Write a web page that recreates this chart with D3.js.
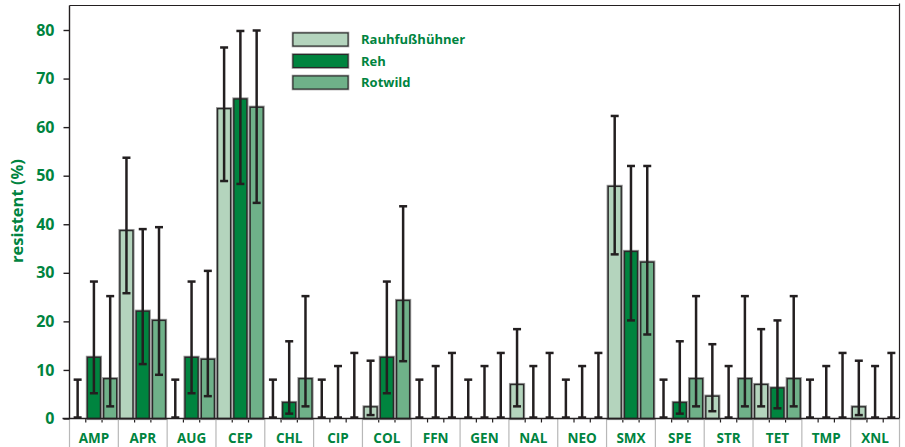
<!DOCTYPE html>
<html>
<head>
<meta charset="utf-8">
<script src="https://cdn.jsdelivr.net/npm/d3@7"></script>
<style>
body { margin: 0; background: #fff; }
svg text { font-family: "Open Sans", "Noto Sans", sans-serif; font-weight: bold; fill: #00843f; }
</style>
</head>
<body>
<svg id="chart" width="905" height="447"></svg>
<script>
'use strict';

// Antibiotika
var categories = ["AMP", "APR", "AUG", "CEP", "CHL", "CIP", "COL", "FFN", "GEN",
	"NAL", "NEO", "SMX", "SPE", "STR", "TET", "TMP", "XNL"];
var seriesNames = ["Rauhfußhühner", "Reh", "Rotwild"];
var seriesColors = ["#b4d4bd", "#00843f", "#6fb189"];

// resistent (%) mit unterem / oberem Konfidenzintervall
var rauhValues = [0, 38.7, 0, 63.8, 0, 0, 2.4, 0, 0, 7.0, 0, 47.8, 0, 4.6, 7.0, 0, 2.4];
var rauhLower  = [0, 25.8, 0, 48.9, 0, 0, 0.7, 0, 0, 2.5, 0, 33.8, 0, 1.5, 2.5, 0, 0.7];
var rauhUpper  = [8.0, 53.7, 8.0, 76.4, 8.0, 8.0, 11.9, 8.0, 8.0, 18.4, 8.0, 62.3, 8.0, 15.3, 18.4, 8.0, 11.9];

var rehValues = [12.6, 22.1, 12.6, 65.8, 3.3, 0, 12.6, 0, 0, 0, 0, 34.4, 3.3, 0, 6.3, 0, 0];
var rehLower  = [5.2, 11.2, 5.2, 48.3, 1.0, 0, 5.2, 0, 0, 0, 0, 20.2, 1.0, 0, 2.1, 0, 0];
var rehUpper  = [28.2, 39.0, 28.2, 79.8, 15.9, 10.8, 28.2, 10.8, 10.8, 10.8, 10.8, 52.0, 15.9, 10.8, 20.2, 10.8, 10.8];

var rotValues = [8.2, 20.2, 12.2, 64.1, 8.2, 0, 24.3, 0, 0, 0, 0, 32.2, 8.2, 8.2, 8.2, 0, 0];
var rotLower  = [2.5, 9.0, 4.6, 44.4, 2.5, 0, 11.8, 0, 0, 0, 0, 17.3, 2.5, 2.5, 2.5, 0, 0];
var rotUpper  = [25.2, 39.4, 30.4, 79.9, 25.2, 13.5, 43.7, 13.5, 13.5, 13.5, 13.5, 52.0, 25.2, 25.2, 25.2, 13.5, 13.5];

var yTicks = [0, 10, 20, 30, 40, 50, 60, 70, 80];
var yLabel = "resistent (%)";

function buildRows() {
	let values = [rauhValues, rehValues, rotValues];
	let lower = [rauhLower, rehLower, rotLower];
	let upper = [rauhUpper, rehUpper, rotUpper];
	let rows = [];
	categories.forEach(function (cat, i) {
		seriesNames.forEach(function (s, j) {
			rows.push({cat: cat, series: s, idx: j, value: values[j][i], lo: lower[j][i], hi: upper[j][i]});
		});
	});
	return rows;
}

function drawChart() {
	let svg = d3.select("#chart");
	let left = 69.5, right = 899.5, top = 5.5, axisY = 418.5, bottom = 447;
	let rows = buildRows();

	let x = d3.scaleBand().domain(categories).range([left, right]);
	let xs = d3.scaleBand().domain(seriesNames).range([0, x.bandwidth()])
		.paddingInner(0.2).paddingOuter(0.1);
	let y = d3.scaleLinear().domain([0, 80]).range([axisY, 30]);

	// Rahmen oben / rechts
	svg.append("line").attr("x1", left).attr("x2", right).attr("y1", top).attr("y2", top)
		.attr("stroke", "#231f20").attr("stroke-width", 1.2);
	svg.append("line").attr("x1", right).attr("x2", right).attr("y1", top - 2).attr("y2", axisY)
		.attr("stroke", "#231f20").attr("stroke-width", 1.2);

	// Trennlinien unter der Achse
	let seps = categories.map(function (c) { return x(c); }).concat([right]);
	svg.append("g").selectAll("line").data(seps).enter().append("line")
		.attr("x1", function (d) { return d; }).attr("x2", function (d) { return d; })
		.attr("y1", axisY).attr("y2", bottom)
		.attr("stroke", "#b8b8b8").attr("stroke-width", 1.2);

	// kleine Ticks zwischen den Balken
	let subTicks = [];
	categories.forEach(function (c) {
		subTicks.push(x(c) + x.bandwidth() / 3, x(c) + 2 * x.bandwidth() / 3);
	});
	svg.append("g").selectAll("line").data(subTicks).enter().append("line")
		.attr("x1", function (d) { return d; }).attr("x2", function (d) { return d; })
		.attr("y1", axisY).attr("y2", axisY + 4)
		.attr("stroke", "#231f20").attr("stroke-width", 1.2);

	// Balken
	let bars = svg.append("g").selectAll("g.bar").data(rows.filter(function (d) { return d.value > 0; }))
		.enter().append("g").attr("class", "bar");
	bars.append("rect")
		.attr("x", function (d) { return x(d.cat) + xs(d.series); })
		.attr("y", function (d) { return y(d.value); })
		.attr("width", xs.bandwidth())
		.attr("height", function (d) { return axisY - y(d.value); })
		.attr("fill", function (d) { return seriesColors[d.idx]; })
		.attr("stroke", "#9a9a9a").attr("stroke-width", 3.2);
	bars.append("rect")
		.attr("x", function (d) { return x(d.cat) + xs(d.series); })
		.attr("y", function (d) { return y(d.value); })
		.attr("width", xs.bandwidth())
		.attr("height", function (d) { return axisY - y(d.value); })
		.attr("fill", function (d) { return seriesColors[d.idx]; })
		.attr("stroke", "#2a2a2a").attr("stroke-width", 1.4);

	// Achsen
	svg.append("line").attr("x1", left - 7).attr("x2", right).attr("y1", axisY).attr("y2", axisY)
		.attr("stroke", "#231f20").attr("stroke-width", 1.4);
	let yAxis = svg.append("g").attr("transform", "translate(" + left + ",0)")
		.call(d3.axisLeft(y).tickValues(yTicks).tickSize(6).tickSizeOuter(0).tickPadding(9));
	yAxis.select(".domain").remove();
	yAxis.append("line").attr("y1", top).attr("y2", axisY).attr("stroke", "#231f20").attr("stroke-width", 1.4);
	yAxis.selectAll(".tick line").attr("stroke", "#231f20").attr("stroke-width", 1.4);
	yAxis.selectAll(".tick text").attr("font-size", 16).attr("fill", "#00843f")
		.attr("font-family", "'Open Sans', sans-serif").attr("font-weight", "bold");

	// Fehlerbalken
	let cap = 4;
	let err = svg.append("g").selectAll("g.err").data(rows).enter().append("g").attr("class", "err")
		.attr("stroke", "#231f20").attr("stroke-width", 2.5);
	let cx = function (d) { return x(d.cat) + xs(d.series) + xs.bandwidth() / 2; };
	err.append("line")
		.attr("x1", cx).attr("x2", cx)
		.attr("y1", function (d) { return y(d.lo); }).attr("y2", function (d) { return y(d.hi); });
	err.append("line")
		.attr("x1", function (d) { return cx(d) - cap; }).attr("x2", function (d) { return cx(d) + cap; })
		.attr("y1", function (d) { return y(d.hi); }).attr("y2", function (d) { return y(d.hi); });
	err.append("line")
		.attr("x1", function (d) { return cx(d) - cap; }).attr("x2", function (d) { return cx(d) + cap; })
		.attr("y1", function (d) { return y(d.lo) - (d.lo === 0 ? 1 : 0); })
		.attr("y2", function (d) { return y(d.lo) - (d.lo === 0 ? 1 : 0); });

	// Kategorien
	svg.append("g").selectAll("text").data(categories).enter().append("text")
		.attr("x", function (d) { return x(d) + x.bandwidth() / 2; })
		.attr("y", 443)
		.attr("text-anchor", "middle")
		.attr("font-size", 13.5)
		.text(function (d) { return d; });

	// y-Titel
	svg.append("text")
		.attr("transform", "translate(23,211) rotate(-90)")
		.attr("text-anchor", "middle")
		.attr("font-size", 16.5)
		.text(yLabel);

	// Legende
	let legend = svg.append("g").attr("transform", "translate(293,33)");
	let item = legend.selectAll("g").data(seriesNames).enter().append("g")
		.attr("transform", function (d, i) { return "translate(0," + (i * 21.5) + ")"; });
	item.append("rect").attr("width", 55).attr("height", 13)
		.attr("fill", function (d, i) { return seriesColors[i]; })
		.attr("stroke", "#9a9a9a").attr("stroke-width", 2.6);
	item.append("rect").attr("width", 55).attr("height", 13)
		.attr("fill", function (d, i) { return seriesColors[i]; })
		.attr("stroke", "#2a2a2a").attr("stroke-width", 1.1);
	item.append("text").attr("x", 68).attr("y", 11).attr("font-size", 13)
		.text(function (d) { return d; });
}

drawChart();
</script>
</body>
</html>
